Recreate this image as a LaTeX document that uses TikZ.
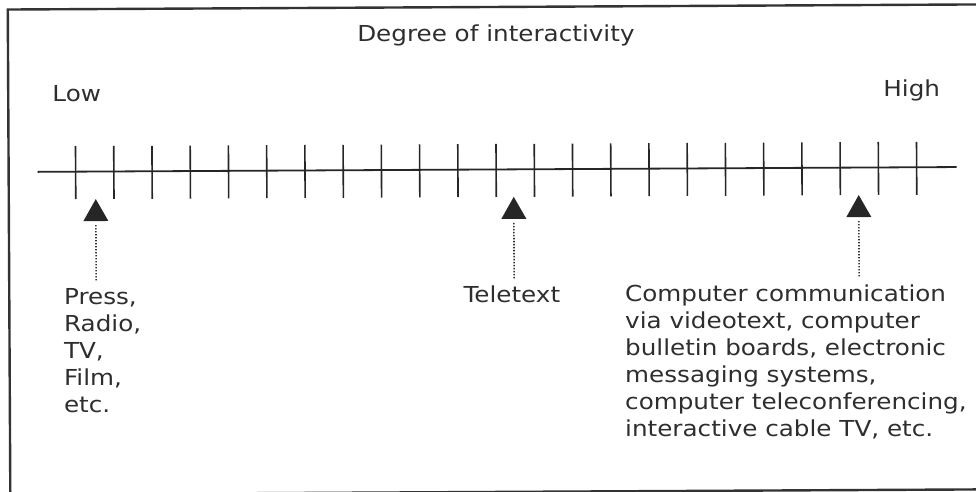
\documentclass[tikz,border=0pt]{standalone}
\usepackage{fontspec}
\setmainfont{DejaVu Sans}[FakeStretch=1.12]
\begin{document}
\begin{tikzpicture}[x=1pt,y=-1pt,
  frameline/.style={line width=2.4pt, draw=black!80},
  axisline/.style={line width=1.8pt, draw=black!85},
  tickline/.style={line width=1.6pt, draw=black!85},
  marker/.style={fill=black!85},
  dotline/.style={line width=1.6pt, draw=black!80, dash pattern=on 1.4pt off 1.6pt},
  lbl/.style={inner sep=0pt, font=\fontsize{22}{27}\selectfont, text=black!82, align=left}]
\useasboundingbox (0,0) rectangle (976,492);
\begin{scope}[rotate around={0.3:(488,246)}]
  % frame
  \coordinate (fTR) at (990,7);
  \coordinate (fTL) at (9,7);
  \coordinate (fBL) at (9,492);
  \coordinate (fBR) at (990,492);
  \draw[frameline] (fTR) -- (fTL) -- (fBL) -- (fBR);
  % axis
  \coordinate (axL) at (38,169.5);
  \coordinate (axR) at (957,169.5);
  \draw[axisline] (axL) -- (axR);
  \foreach \i in {0,...,22}
    \draw[tickline] ({76+38.23*\i},144) -- ({76+38.23*\i},197);
  % labels on top
  \node[lbl, anchor=base] (title) at (497,42) {Degree of interactivity};
  \node[lbl, anchor=base west] (low) at (53,99) {Low};
  \node[lbl, anchor=base east] (high) at (941,99) {High};
  % markers
  \foreach \n/\x in {m1/96, m2/514, m3/859} {
    \coordinate (\n) at (\x,197);
    \fill[marker] (\n) -- ++(-12.5,22) -- ++(25,0) -- cycle;
    \coordinate (\n s) at (\x,223);
    \coordinate (\n e) at (\x,279);
    \draw[dotline] (\n s) -- (\n e);
  }
  % texts (base anchor = baseline of the last line)
  \node[lbl, anchor=base west] (press) at (63,410)
    {Press,\\Radio,\\TV,\\Film,\\etc.};
  \node[lbl, anchor=base west] (teletext) at (463,302) {Teletext};
  \node[lbl, anchor=base west] (comp) at (624,437)
    {Computer communication\\via videotext, computer\\bulletin boards, electronic\\messaging systems,\\computer teleconferencing,\\interactive cable TV, etc.};
\end{scope}
\end{tikzpicture}
\end{document}
